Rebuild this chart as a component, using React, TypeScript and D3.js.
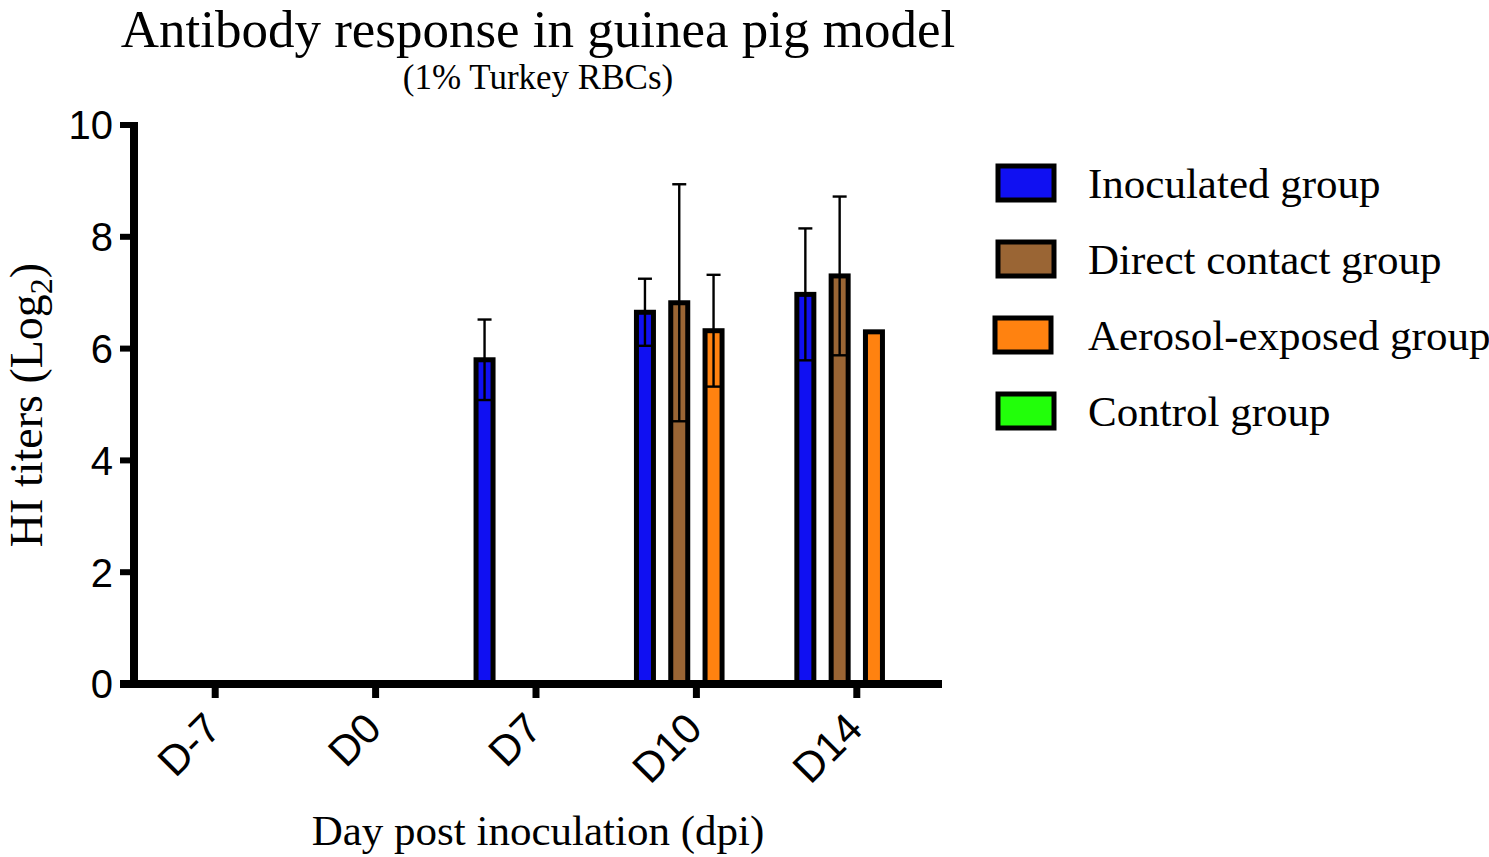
import React from "react";
import * as d3 from "d3";

const categories = ["D-7", "D0", "D7", "D10", "D14"];
const seriesNames = ["Inoculated group", "Direct contact group", "Aerosol-exposed group", "Control group"];
const seriesColors = ["#1010F2", "#9A6534", "#FF8210", "#22FF0A"];
const inoculated = [0, 0, 5.8, 6.65, 6.97];
const inoculatedSD = [0, 0, 0.72, 0.6, 1.18];
const direct = [0, 0, 0, 6.82, 7.3];
const directSD = [0, 0, 0, 2.12, 1.42];
const aerosol = [0, 0, 0, 6.32, 6.3];
const aerosolSD = [0, 0, 0, 1.0, 0];
const control = [0, 0, 0, 0, 0];
const controlSD = [0, 0, 0, 0, 0];
const yTicks = [0, 2, 4, 6, 8, 10];

const values = [inoculated, direct, aerosol, control];
const sds = [inoculatedSD, directSD, aerosolSD, controlSD];

export default function App() {
  const W = 1489, H = 857;
  const y = d3.scaleLinear().domain([0, 10]).range([684, 125]);
  const x = d3.scaleBand<string>().domain(categories).range([135, 937]);
  const inner = d3.scaleBand<number>().domain([0, 1, 2, 3]).range([-68.6, 68.6]);
  const barW = 17;
  const serif = "'Liberation Serif', 'Times New Roman', serif";
  const sans = "'Liberation Sans', Arial, sans-serif";

  return (
    <div style={{ position: "absolute", left: 0, top: 0 }}>
      <svg width={W} height={H} style={{ display: "block", background: "#fff" }}>
        <text x={538} y={47} textAnchor="middle" fontFamily={serif} fontSize={53}>
          Antibody response in guinea pig model
        </text>
        <text x={538} y={89} textAnchor="middle" fontFamily={serif} fontSize={35}>
          (1% Turkey RBCs)
        </text>

        {/* bars */}
        {categories.map((c, ci) => (
          <g key={c}>
            {values.map((vals, si) => {
              const v = vals[ci];
              if (!v) return null;
              const cx = x(c)! + x.bandwidth() / 2 + inner(si)! + inner.bandwidth() / 2;
              const sd = sds[si][ci];
              return (
                <g key={si}>
                  <rect
                    x={cx - barW / 2}
                    y={y(v)}
                    width={barW}
                    height={y(0) - y(v)}
                    fill={seriesColors[si]}
                    stroke="#000"
                    strokeWidth={5}
                  />
                  {sd > 0 && (
                    <g stroke="#000" strokeWidth={2.4}>
                      <line x1={cx} x2={cx} y1={y(v - sd)} y2={y(v + sd)} />
                      <line x1={cx - 7} x2={cx + 7} y1={y(v + sd)} y2={y(v + sd)} />
                      <line x1={cx - 8} x2={cx + 8} y1={y(v - sd)} y2={y(v - sd)} />
                    </g>
                  )}
                </g>
              );
            })}
          </g>
        ))}

        {/* y axis */}
        <line x1={134} x2={134} y1={y(10) - 3} y2={y(0) + 4} stroke="#000" strokeWidth={8} />
        {yTicks.map((t) => (
          <g key={t}>
            <line x1={120} x2={134} y1={y(t)} y2={y(t)} stroke="#000" strokeWidth={6} />
            <text x={113} y={y(t)} dy="0.36em" textAnchor="end" fontFamily={sans} fontSize={40}>
              {t}
            </text>
          </g>
        ))}
        <text
          transform={`translate(42,405) rotate(-90)`}
          textAnchor="middle"
          fontFamily={serif}
          fontSize={46}
        >
          HI titers (Log
          <tspan fontSize={32} dy={10}>2</tspan>
          <tspan dy={-10}>)</tspan>
        </text>

        {/* x axis */}
        <line x1={120} x2={942} y1={684} y2={684} stroke="#000" strokeWidth={8} />
        {categories.map((c) => {
          const cx = x(c)! + x.bandwidth() / 2;
          return (
            <g key={c}>
              <line x1={cx} x2={cx} y1={684} y2={698} stroke="#000" strokeWidth={7} />
              <text
                transform={`translate(${cx + 8},${731}) rotate(-45)`}
                textAnchor="end"
                fontFamily={sans}
                fontSize={42}
              >
                {c}
              </text>
            </g>
          );
        })}
        <text x={538} y={845} textAnchor="middle" fontFamily={serif} fontSize={43}>
          Day post inoculation (dpi)
        </text>

        {/* legend */}
        {seriesNames.map((n, i) => (
          <g key={n} transform={`translate(0,${183 + i * 76})`}>
            <rect x={i === 2 ? 995 : 998} y={-17} width={56} height={34} fill={seriesColors[i]} stroke="#000" strokeWidth={5} />
            <text x={1088} y={0} dy="0.35em" fontFamily={serif} fontSize={43}>
              {n}
            </text>
          </g>
        ))}
      </svg>
    </div>
  );
}
